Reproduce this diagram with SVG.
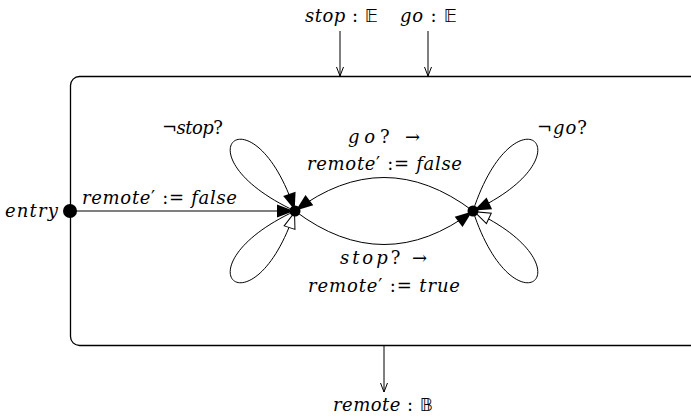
<svg xmlns="http://www.w3.org/2000/svg" width="691" height="419" viewBox="0 0 691 419">
<style>
text{font-family:"DejaVu Serif","Liberation Serif",serif;font-size:18px;font-style:italic;fill:#000}
.u{font-style:normal}
.bb{font-family:"DejaVu Sans",sans-serif;font-style:normal;font-size:18px}
.edge{fill:none;stroke:#000;stroke-width:1}
</style>
<defs>
<marker id="fa" markerUnits="userSpaceOnUse" markerWidth="17" markerHeight="13" viewBox="0 0 17 13" refX="18" refY="6.5" orient="auto" overflow="visible">
<path d="M0,0 L17,6.5 L0,13 z" fill="#000"/>
</marker>
<marker id="ha" markerUnits="userSpaceOnUse" markerWidth="17" markerHeight="13" viewBox="0 0 17 13" refX="18" refY="6.5" orient="auto" overflow="visible">
<path d="M0.5,0.8 L16.5,6.5 L0.5,12.2 z" fill="#fff" stroke="#000" stroke-width="1"/>
</marker>
<marker id="va" markerUnits="userSpaceOnUse" markerWidth="10" markerHeight="10" viewBox="0 0 10 10" refX="9" refY="5" orient="auto" overflow="visible">
<path d="M0,1.5 L9,5 L0,8.5" fill="none" stroke="#000" stroke-width="1"/>
</marker>
</defs>

<g id="component">
<rect x="70.5" y="76.5" width="640" height="269" rx="9" fill="none" stroke="#000" stroke-width="1.3"/>
</g>

<g id="connectors">
<line class="edge" x1="340" y1="31" x2="340" y2="76" marker-end="url(#va)"/>
<line class="edge" x1="428" y1="31" x2="428" y2="76" marker-end="url(#va)"/>
<line class="edge" x1="384" y1="346" x2="384" y2="392" marker-end="url(#va)"/>
<line class="edge" x1="70" y1="211" x2="295" y2="211" stroke="#333" marker-end="url(#fa)"/>
<path class="edge" d="M295,211 C173,154 253,83 295,211" marker-end="url(#fa)"/>
<path class="edge" d="M295,211 C173,268 253,339 295,211" marker-end="url(#ha)"/>
<path class="edge" d="M473,211 C515,83 595,154 473,211" marker-end="url(#fa)"/>
<path class="edge" d="M473,211 C515,339 595,268 473,211" marker-end="url(#ha)"/>
<path class="edge" d="M473,211 Q384,144 295,211" marker-end="url(#fa)"/>
<path class="edge" d="M295,211 Q384,278 473,211" marker-end="url(#fa)"/>
</g>

<g id="entry">
<circle cx="70" cy="211" r="7" fill="#000"/>
<text x="58" y="217" text-anchor="end" textLength="53">entry</text>
<text x="82" y="204" textLength="155">remote<tspan class="u">′ := </tspan>false</text>
</g>

<g id="s1">
<circle cx="295" cy="211" r="5.5" fill="#000"/>
<text x="162" y="134" textLength="61"><tspan class="u">¬</tspan>stop<tspan class="u">?</tspan></text>
</g>

<g id="s2">
<circle cx="473" cy="211" r="5.5" fill="#000"/>
<text x="537" y="134" textLength="50"><tspan class="u">¬</tspan>go<tspan class="u">?</tspan></text>
</g>

<g id="labels">
<text x="348" y="143" textLength="72">go<tspan class="u">?  →</tspan></text>
<text x="307" y="170" textLength="155">remote<tspan class="u">′ := </tspan>false</text>
<text x="340" y="264" textLength="87">stop<tspan class="u">?  →</tspan></text>
<text x="308" y="292" textLength="152">remote<tspan class="u">′ := </tspan>true</text>
<text x="305" y="22" textLength="73">stop<tspan class="u"> : </tspan><tspan class="bb">𝔼</tspan></text>
<text x="400" y="22" textLength="57">go<tspan class="u"> : </tspan><tspan class="bb">𝔼</tspan></text>
<text x="333" y="411" textLength="100">remote<tspan class="u"> : </tspan><tspan class="bb">𝔹</tspan></text>
</g>
</svg>
